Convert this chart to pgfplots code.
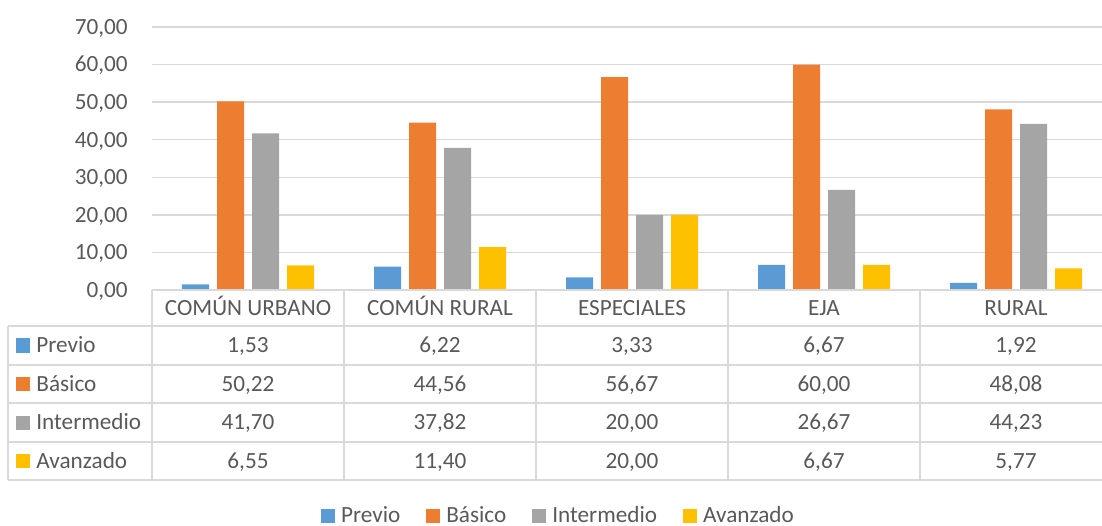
\documentclass[border=0pt]{standalone}
\usepackage{pgfplots}
\pgfplotsset{compat=1.18}
\usepackage{fontspec}
\setmainfont{Carlito}
\definecolor{cprev}{HTML}{5B9BD5}
\definecolor{cbas}{HTML}{ED7D31}
\definecolor{cint}{HTML}{A5A5A5}
\definecolor{cava}{HTML}{FFC000}
\definecolor{txt}{HTML}{595959}
\definecolor{grd}{HTML}{D9D9D9}
\pgfplotsset{sqlegend/.style={legend image code/.code={\fill[##1] (0pt,-3.5pt) rectangle (7pt,3.5pt);}}}
% table row: #1 colour, #2 name, #3-#7 values, #8 row centre (px)
\newcommand\trow[8]{%
  \fill[#1] (16,#8-7) rectangle (30,#8+7);
  \node[anchor=base west, inner sep=0pt, text=txt] at (36,#8-7.4) {#2};
  \node[anchor=base, inner sep=0pt, text=txt] at (248,#8-7.4) {#3};
  \node[anchor=base, inner sep=0pt, text=txt] at (440,#8-7.4) {#4};
  \node[anchor=base, inner sep=0pt, text=txt] at (632,#8-7.4) {#5};
  \node[anchor=base, inner sep=0pt, text=txt] at (824,#8-7.4) {#6};
  \node[anchor=base, inner sep=0pt, text=txt] at (1016,#8-7.4) {#7};
}
\begin{document}
\fontsize{11.6}{14}\selectfont
\begin{tikzpicture}[x=0.5pt,y=0.5pt]
\useasboundingbox (0,0) rectangle (1102,525);
\begin{axis}[at={(76pt,117.5pt)}, anchor=south west, scale only axis,
  width=475pt, height=131.5pt,
  xmin=-0.5, xmax=4.448, ymin=0, ymax=70,
  ytick={0,10,...,70}, xtick=\empty,
  axis line style={draw=none}, tick style={draw=none}, major tick length=0pt,
  ymajorgrids, grid style={grd, line width=0.75pt},
  yticklabel style={text=txt, anchor=base east, inner sep=0pt, xshift=-12pt, yshift=-3.7pt,
    /pgf/number format/fixed, /pgf/number format/fixed zerofill,
    /pgf/number format/precision=2, /pgf/number format/use comma,
    /pgf/number format/assume math mode=true},
  ybar, bar width=13.5pt,
  legend style={at={(0.4268,-0.859)}, anchor=center, draw=none, fill=none, inner sep=0pt,
    /tikz/every even column/.append style={column sep=13pt},
    /tikz/every odd column/.append style={column sep=3pt},
    nodes={inner sep=0pt, text=txt}},
  legend columns=4,
  every axis plot post/.append style={sqlegend},
]
\addplot[fill=cprev, draw=none, bar shift=-26.25pt] coordinates {(0,1.53) (1,6.22) (2,3.33) (3,6.67) (4,1.92)};
\addlegendentry{Previo}
\addplot[fill=cbas, draw=none, bar shift=-8.75pt] coordinates {(0,50.22) (1,44.56) (2,56.67) (3,60.00) (4,48.08)};
\addlegendentry{Básico}
\addplot[fill=cint, draw=none, bar shift=8.75pt] coordinates {(0,41.70) (1,37.82) (2,20.00) (3,26.67) (4,44.23)};
\addlegendentry{Intermedio}
\addplot[fill=cava, draw=none, bar shift=26.25pt] coordinates {(0,6.55) (1,11.40) (2,20.00) (3,6.67) (4,5.77)};
\addlegendentry{Avanzado}
\end{axis}
\begin{scope}[draw=grd, line width=0.75pt]
  \draw (152,235) -- (1102,235);
  \foreach \yy in {199,160,122,83,45} \draw (8,\yy) -- (1102,\yy);
  \draw (8,199) -- (8,45);
  \foreach \xx in {152,344,536,728,920} \draw (\xx,235) -- (\xx,45);
\end{scope}
\node[anchor=base, inner sep=0pt, text=txt] at (248,209.6) {COMÚN URBANO};
\node[anchor=base, inner sep=0pt, text=txt] at (440,209.6) {COMÚN RURAL};
\node[anchor=base, inner sep=0pt, text=txt] at (632,209.6) {ESPECIALES};
\node[anchor=base, inner sep=0pt, text=txt] at (824,209.6) {EJA};
\node[anchor=base, inner sep=0pt, text=txt] at (1016,209.6) {RURAL};
\trow{cprev}{Previo}{1,53}{6,22}{3,33}{6,67}{1,92}{179.5}
\trow{cbas}{Básico}{50,22}{44,56}{56,67}{60,00}{48,08}{141}
\trow{cint}{Intermedio}{41,70}{37,82}{20,00}{26,67}{44,23}{102.5}
\trow{cava}{Avanzado}{6,55}{11,40}{20,00}{6,67}{5,77}{64}
\end{tikzpicture}
\end{document}
